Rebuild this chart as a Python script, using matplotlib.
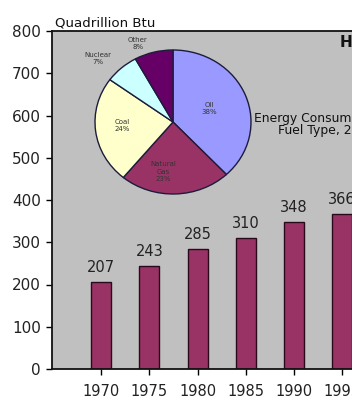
import matplotlib
matplotlib.use("Agg")
import matplotlib.pyplot as plt
import numpy as np

plt.rcParams['font.family'] = ['DejaVu Sans']

# Annual consumption (quadrillion Btu)
years = ["1970", "1975", "1980", "1985", "1990", "1995"]
consumption = [207, 243, 285, 310, 348, 366]

# Consumption share by fuel type
fuels = ["Oil", "Natural\nGas", "Coal", "Nuclear", "Other"]
shares = [38, 23, 24, 7, 8]
fuel_colors = ["#9999ff", "#993366", "#ffffcc", "#ccffff", "#660066"]

W, H = 352, 399
fig = plt.figure(figsize=(W / 100, H / 100), dpi=100)
fig.patch.set_facecolor("white")

def fx(px):
    return px / W

def fy(py):
    return 1 - py / H

# --- bar chart ---
ax_left, ax_top, ax_bottom = 52, 31, 369
unit_px = 48.2
x_lo, x_hi = -1.02, 7.0
ax = fig.add_axes([fx(ax_left), fy(ax_bottom),
                   (x_hi - x_lo) * unit_px / W, (ax_bottom - ax_top) / H])
ax.set_facecolor("#c0c0c0")
x = np.arange(len(years))
bars = ax.bar(x, consumption, width=0.415, color="#993366",
              edgecolor="#2a0a1a", linewidth=1.0, zorder=2)
for xi, v in zip(x, consumption):
    ax.annotate(str(v), (xi, v), xytext=(0, 5), textcoords="offset points",
                ha="center", va="bottom", fontsize=10.5, color="#222222")
ax.set_xlim(x_lo, x_hi)
ax.set_ylim(0, 800)
ax.set_yticks(np.arange(0, 801, 100))
ax.set_xticks(x)
ax.set_xticklabels(years)
ax.tick_params(axis="y", direction="out", length=4, width=1, pad=4,
               labelsize=11, labelcolor="#222222")
ax.tick_params(axis="x", direction="out", length=4, width=1, pad=7,
               labelsize=10.5, labelcolor="#222222")
for s in ["left", "bottom", "top"]:
    ax.spines[s].set_linewidth(1.3)
    ax.spines[s].set_color("#111111")
ax.spines["right"].set_visible(False)

fig.text(fx(55), fy(27), "Quadrillion Btu", fontsize=9.6, ha="left",
         va="baseline", color="#111111")
fig.text(fx(340), fy(47), "History", fontsize=11, fontweight="bold",
         ha="left", va="baseline", color="#111111")
fig.text(fx(254), fy(122), "Energy Consumption by", fontsize=8.9,
         ha="left", va="baseline", color="#111111")
fig.text(fx(278), fy(134), "Fuel Type, 2007", fontsize=8.9,
         ha="left", va="baseline", color="#111111")

# --- pie inset ---
cx, cy, rx, ry = 173, 122, 78, 72
pax = fig.add_axes([fx(cx - rx), fy(cy + ry), 2 * rx / W, 2 * ry / H])
pax.set_facecolor("none")
wedges, _ = pax.pie(shares, colors=fuel_colors, startangle=90,
                    counterclock=False, radius=1.0,
                    wedgeprops=dict(edgecolor="#1c1c3c", linewidth=1.0))
pax.set_xlim(-1, 1)
pax.set_ylim(-1, 1)
pax.set_aspect("auto")
pax.axis("off")

label_radius = [0.5, 0.7, 0.65, 1.3, 1.18]
angle_shift = [0, -12, -3, 6, 8]
for w, name, pct, r, da in zip(wedges, fuels, shares, label_radius, angle_shift):
    mid = np.deg2rad((w.theta1 + w.theta2) / 2 + da)
    pax.text(r * np.cos(mid), r * np.sin(mid), f"{name}\n{pct}%",
             ha="center", va="center", fontsize=5, color="#333333",
             linespacing=1.3, clip_on=False)

fig.savefig("out.png", dpi=100)
